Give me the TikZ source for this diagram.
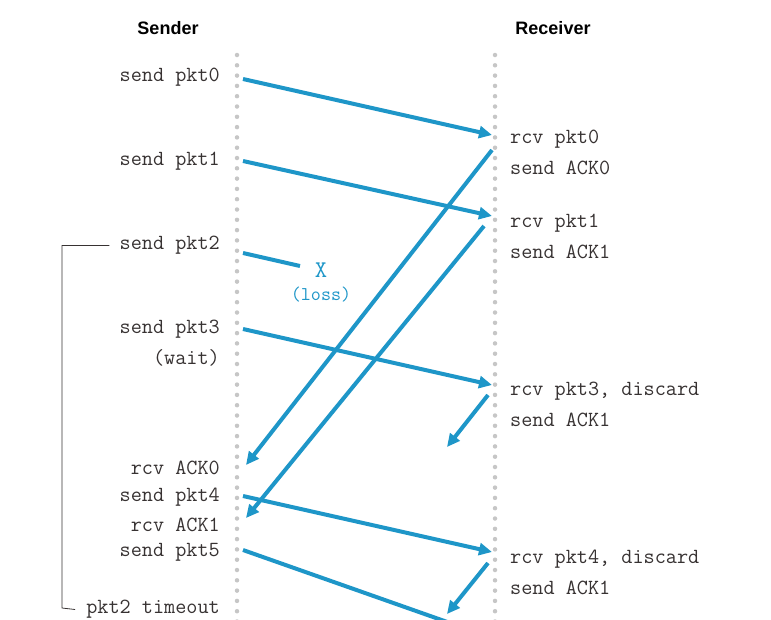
\documentclass[tikz,border=0pt]{standalone}
\usepackage{fontspec}
\setsansfont{Liberation Sans}
\usetikzlibrary{arrows.meta}
\definecolor{msgblue}{RGB}{30,150,200}
\definecolor{txtgray}{RGB}{55,50,50}

\begin{document}
\begin{tikzpicture}[
  x=1pt, y=-1pt,
  timeline/.style={
    draw=gray!45,
    line width=4.5pt,
    line cap=round,
    dash pattern=on 0pt off 10.3pt
  },
  lbl/.style={
    font=\fontsize{21.6}{22}\ttfamily,
    text=txtgray,
    inner sep=0pt,
    yshift=-1.5pt
  },
  sndlbl/.style={lbl, anchor=east},
  rcvlbl/.style={lbl, anchor=west},
  head/.style={
    font=\fontsize{18}{18}\sffamily\bfseries,
    text=black
  },
  msg/.style={
    draw=msgblue,
    line width=4pt,
    -{Triangle[length=13pt,width=12pt]}
  },
  lost/.style={
    draw=msgblue,
    line width=4pt
  },
  bracket/.style={
    draw=txtgray,
    line width=0.8pt
  },
]
\useasboundingbox (0,0) rectangle (771,619);
\clip (0,0) rectangle (771,619);

% headings
\node[head] (sender) at (168,28) {Sender};
\node[head] (receiver) at (553,28) {Receiver};

% time lines
\coordinate (stop) at (237,55);
\coordinate (sbot) at (237,625);
\coordinate (rtop) at (495,55);
\coordinate (rbot) at (495,625);
\draw[timeline] (stop) -- (sbot);
\draw[timeline] (rtop) -- (rbot);

% sender side
\node[sndlbl] (s0) at (220,76) {send pkt0};
\node[sndlbl] (s1) at (220,160) {send pkt1};
\node[sndlbl] (s2) at (220,244) {send pkt2};
\node[sndlbl] (s3) at (220,328) {send pkt3};
\node[sndlbl] (wait) at (220,356) {(wait)};
\node[sndlbl] (ra0) at (220,466) {rcv ACK0};
\node[sndlbl] (s4) at (220,496) {send pkt4};
\node[sndlbl] (ra1) at (220,523) {rcv ACK1};
\node[sndlbl] (s5) at (220,551) {send pkt5};
\node[sndlbl] (tout) at (220,608) {pkt2 timeout};

% receiver side
\node[rcvlbl] (r0) at (510,138) {rcv pkt0};
\node[rcvlbl] (a0) at (510,166) {send ACK0};
\node[rcvlbl] (r1) at (510,222) {rcv pkt1};
\node[rcvlbl] (a1) at (510,250) {send ACK1};
\node[rcvlbl] (r3) at (510,390) {rcv pkt3, discard};
\node[rcvlbl] (a3) at (510,418) {send ACK1};
\node[rcvlbl] (r4) at (510,558) {rcv pkt4, discard};
\node[rcvlbl] (a4) at (510,586) {send ACK1};

% loss
\node[font=\fontsize{24}{24}\ttfamily, text=msgblue, inner sep=0pt] (x) at (321,270) {X};
\node[font=\fontsize{19.5}{19}\ttfamily, text=msgblue, inner sep=0pt] (loss) at (321,295) {(loss)};

% end points of messages
\coordinate (p0s) at (243,79);   \coordinate (p0r) at (492,135);
\coordinate (p1s) at (243,161);  \coordinate (p1r) at (492,216);
\coordinate (p2s) at (243,253);  \coordinate (p2x) at (300,266);
\coordinate (p3s) at (243,329);  \coordinate (p3r) at (492,385);
\coordinate (k0r) at (492,150);  \coordinate (k0s) at (246,465);
\coordinate (k1r) at (484,226);  \coordinate (k1s) at (246,518);
\coordinate (k3r) at (488,395);  \coordinate (k3e) at (447,447);
\coordinate (p4s) at (243,496);  \coordinate (p4r) at (492,552);
\coordinate (p5s) at (243,550);  \coordinate (p5e) at (470,630);
\coordinate (k4r) at (488,563);  \coordinate (k4e) at (447,614);

\draw[msg] (p0s) -- (p0r);
\draw[msg] (p1s) -- (p1r);
\draw[lost] (p2s) -- (p2x);
\draw[msg] (p3s) -- (p3r);
\draw[msg] (k0r) -- (k0s);
\draw[msg] (k1r) -- (k1s);
\draw[msg] (k3r) -- (k3e);
\draw[msg] (p4s) -- (p4r);
\draw[lost] (p5s) -- (p5e);
\draw[msg] (k4r) -- (k4e);

% timeout bracket
\draw[bracket] ([xshift=-10pt]s2.west) -| (62,608) -- ([xshift=-11pt]tout.west);
\end{tikzpicture}
\end{document}
